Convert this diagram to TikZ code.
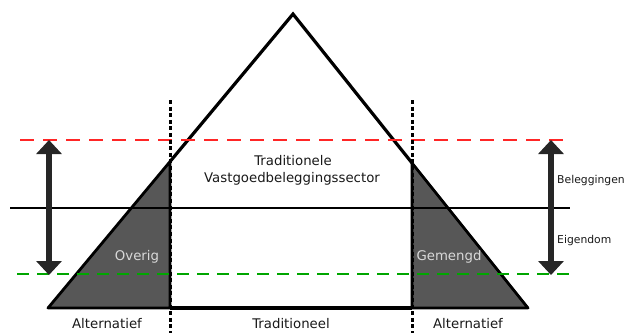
\documentclass[tikz,border=0pt]{standalone}
\usepackage{fontspec}
\setmainfont{DejaVu Sans}
\usetikzlibrary{arrows.meta}
\begin{document}
\begin{tikzpicture}[x=1pt,y=-1pt,
  outline/.style={line width=3.2pt,black},
  sideshade/.style={fill=black!66,draw=black,line width=2.8pt,line join=round},
  divider/.style={line width=3pt,black,dash pattern=on 4pt off 2.6pt},
  upperbound/.style={line width=2pt,red!85!white,dash pattern=on 14pt off 9pt},
  lowerbound/.style={line width=2pt,green!65!black,dash pattern=on 12pt off 8pt},
  span/.style={line width=5.5pt,black!85,{Triangle[width=25pt,length=14pt]}-{Triangle[width=25pt,length=14pt]}},
  lbl/.style={font=\fontsize{13.3}{15}\selectfont,text=black!90,inner sep=0pt},
  sidelbl/.style={font=\fontsize{10.8}{12}\selectfont,text=black!90,inner sep=0pt,anchor=west},
  shadelbl/.style={font=\fontsize{13.3}{15}\selectfont,text=black!15,inner sep=0pt}]
\useasboundingbox (0,0) rectangle (625,333);

% corner points of the pyramid
\coordinate (apex) at (293,14);
\coordinate (bl) at (48,308);
\coordinate (br) at (528,308);
\coordinate (ml) at (170,161.6);
\coordinate (mr) at (412,163);
\coordinate (mlb) at (170,308);
\coordinate (mrb) at (412,308);

% shaded alternative segments
\filldraw[sideshade] (bl) -- (ml) -- (mlb) -- cycle;
\filldraw[sideshade] (mrb) -- (mr) -- (br) -- cycle;

% pyramid outline
\draw[outline,line join=miter] (ml) -- (apex) -- (mr);
\draw[outline] (mlb) -- (mrb);

% middle horizontal line
\coordinate (hl) at (10,208);
\coordinate (hr) at (570,208);
\draw[line width=2.8pt,black] (hl) -- (hr);

% bounds
\coordinate (rl) at (20,140);
\coordinate (rr) at (572,140);
\coordinate (gl) at (17,274);
\coordinate (gr) at (572,274);
\draw[upperbound] (rl) -- (rr);
\draw[lowerbound] (gl) -- (gr);

% vertical dividers
\coordinate (dlt) at (170,100);
\coordinate (dlb) at (170,333);
\coordinate (drt) at (412,100);
\coordinate (drb) at (412,333);
\draw[divider] (dlt) -- (dlb);
\draw[divider] (drt) -- (drb);

% range arrows
\coordinate (alt) at (49,140);
\coordinate (alb) at (49,275);
\coordinate (art) at (551,140);
\coordinate (arb) at (551,275);
\draw[span] (alt) -- (alb);
\draw[span] (art) -- (arb);

% labels
\node[lbl] (trad1) at (293,161) {Traditionele};
\node[lbl] (trad2) at (292,179) {Vastgoedbeleggingssector};
\node[shadelbl] (overig) at (137,257) {Overig};
\node[shadelbl] (gemengd) at (449,257) {Gemengd};
\node[lbl] (altl) at (107,324) {Alternatief};
\node[lbl] (tradb) at (291,324) {Traditioneel};
\node[lbl] (altr) at (468,324) {Alternatief};
\node[sidelbl] (bel) at (557,181) {Beleggingen};
\node[sidelbl] (eig) at (557,241) {Eigendom};
\end{tikzpicture}
\end{document}
